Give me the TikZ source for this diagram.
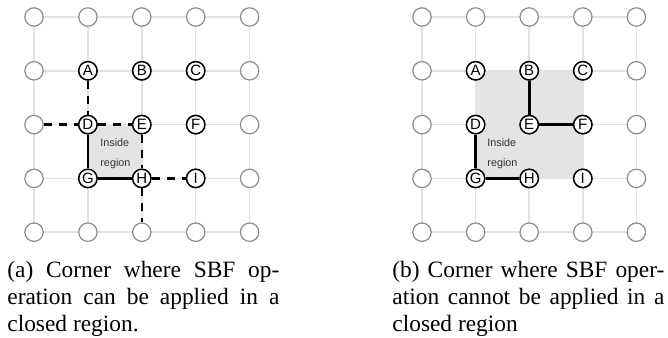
\documentclass[tikz,border=0pt]{standalone}
\usepackage{fontspec}
\setmainfont{Liberation Serif}
\setsansfont{Liberation Sans}
\usetikzlibrary{backgrounds}
\definecolor{gridc}{HTML}{E2E2E2}
\definecolor{ringc}{HTML}{8C8C8C}
\definecolor{regionc}{HTML}{E4E4E4}
\definecolor{txtc}{HTML}{333333}
\tikzset{
 plain/.style={circle,draw=ringc,line width=0.6pt,fill=white,minimum size=9.2pt,inner sep=0pt},
 lab/.style={circle,draw=black,line width=0.75pt,fill=white,minimum size=9.2pt,inner sep=0pt,font=\sffamily\fontsize{7.5}{7.5}\selectfont},
 gridline/.style={draw=gridc,line width=0.75pt},
 thickline/.style={draw=black,line width=1.3pt},
 dashline/.style={draw=black,line width=1.3pt,dash pattern=on 4pt off 3.5pt},
 regiontext/.style={font=\sffamily\fontsize{5.4}{10}\selectfont,text=txtc,align=left,inner sep=0pt,anchor=west},
 captionline/.style={anchor=base west,inner sep=0pt,font=\fontsize{11.7}{13.5}\selectfont},
}
\begin{document}
\begin{tikzpicture}[x=0.5pt,y=-0.5pt]
\useasboundingbox (0,0) rectangle (668,337);
% plain grid nodes
\foreach \i in {0,...,4}{
  \foreach \j in {0,...,4}{
    \node[plain] (L\i\j) at ({34+53.9*\i},{17+53.8*\j}) {};
    \node[plain] (R\i\j) at ({422+53.6*\i},{17+53.8*\j}) {};
  }
}
% grid lines and regions
\begin{pgfonlayer}{background}
\foreach \i [evaluate=\i as \n using int(\i+1)] in {0,...,3}{
  \foreach \j in {0,...,4}{
    \draw[gridline] (L\i\j.center) -- (L\n\j.center);
    \draw[gridline] (R\i\j.center) -- (R\n\j.center);
    \draw[gridline] (L\j\i.center) -- (L\j\n.center);
    \draw[gridline] (R\j\i.center) -- (R\j\n.center);
  }
}
\fill[regionc] (L12.center) rectangle (L23.center);
\fill[regionc] (R11.center) rectangle (R33.center);
\end{pgfonlayer}
% labelled nodes
\foreach \l/\i/\j in {A/1/1,B/2/1,C/3/1,D/1/2,E/2/2,F/3/2,G/1/3,H/2/3,I/3/3}{
  \node[lab] (La\l) at (L\i\j) {\l};
  \node[lab] (Ra\l) at (R\i\j) {\l};
}
% region texts
\node[regiontext] (Ltxt) at (100,154) {Inside\\region};
\node[regiontext] (Rtxt) at (487,154) {Inside\\region};
% left connectors
\draw[dashline] (LaA) -- (LaD);
\draw[dashline] (L02) -- (LaD);
\draw[dashline] (LaD) -- (LaE);
\draw[dashline] (LaE) -- (LaH);
\draw[dashline] (LaH) -- (LaI);
\draw[dashline] (LaH) -- (L24);
\draw[thickline] (LaD) -- (LaG);
\draw[thickline] (LaG) -- (LaH);
% right connectors
\draw[thickline] (RaB) -- (RaE);
\draw[thickline] (RaE) -- (RaF);
\draw[thickline] (RaD) -- (RaG);
\draw[thickline] (RaG) -- (RaH);
% captions
\node[captionline] (capa1) at (7,277) {\makebox[136pt][s]{(a) Corner where SBF op-}};
\node[captionline] (capa2) at (7,304) {\makebox[136pt][s]{eration can be applied in a}};
\node[captionline] (capa3) at (7,331) {closed region.};
\node[captionline] (capb1) at (392,277) {\makebox[136pt][s]{(b) Corner where SBF oper-}};
\node[captionline] (capb2) at (392,304) {\makebox[136pt][s]{ation cannot be applied in a}};
\node[captionline] (capb3) at (392,331) {closed region};
\end{tikzpicture}
\end{document}
